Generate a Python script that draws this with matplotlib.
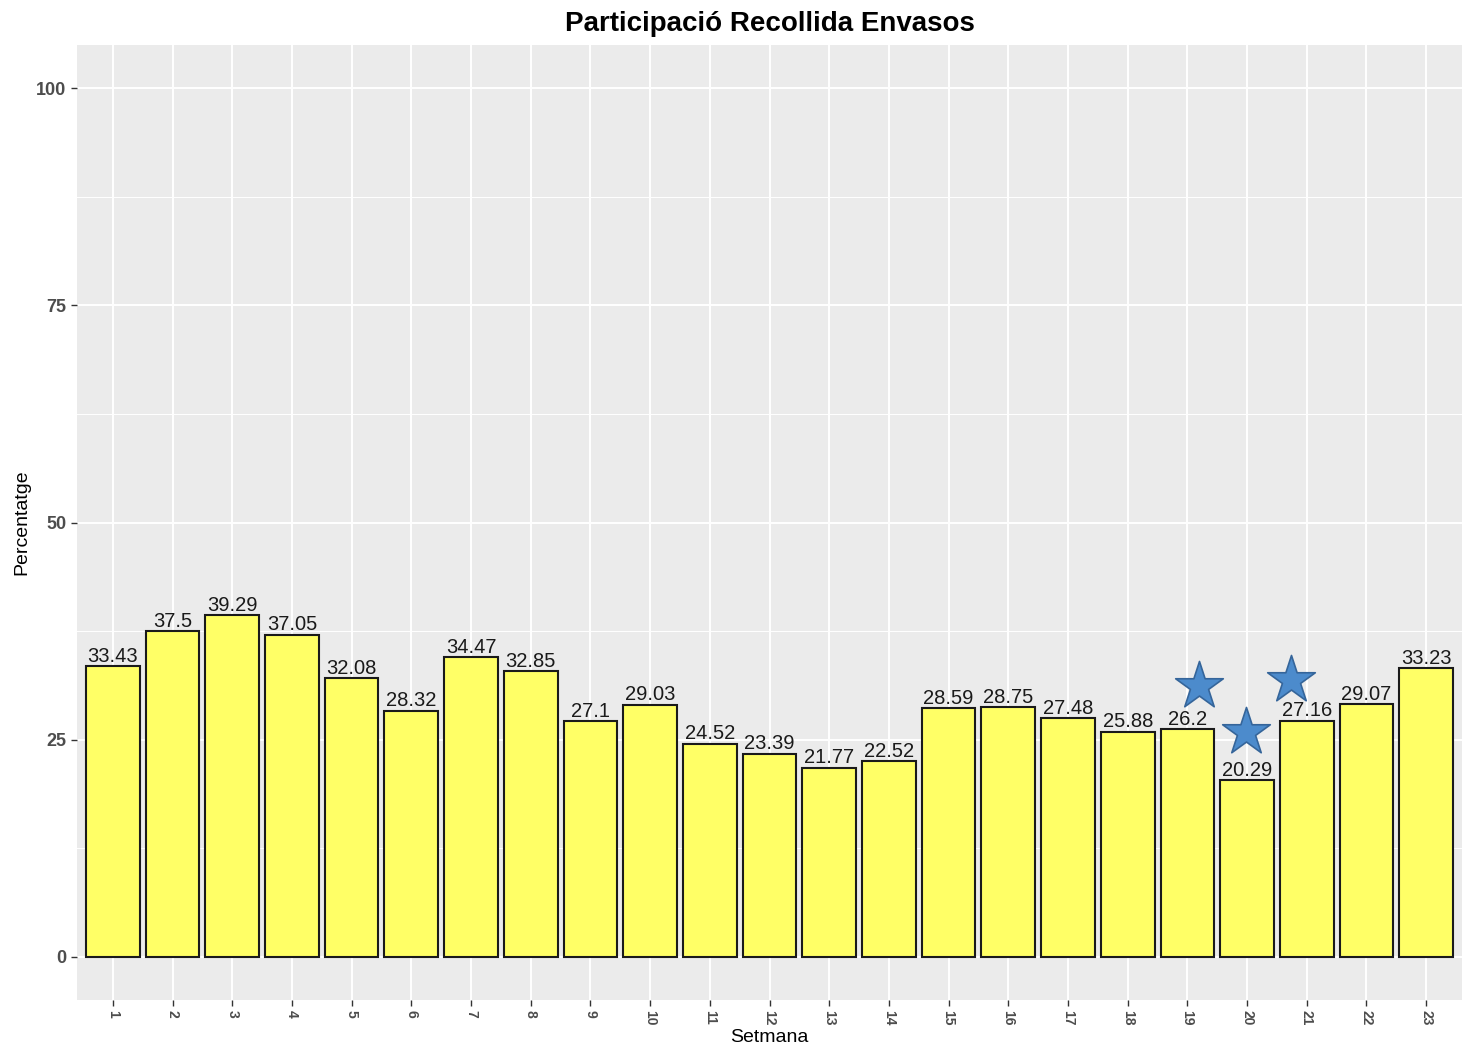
import numpy as np
import matplotlib.pyplot as plt

# Dades
setmana = list(range(1, 24))
percentatge = [33.43, 37.5, 39.29, 37.05, 32.08, 28.32, 34.47, 32.85, 27.1, 29.03,
               24.52, 23.39, 21.77, 22.52, 28.59, 28.75, 27.48, 25.88, 26.2, 20.29,
               27.16, 29.07, 33.23]
etiquetes = ['33.43', '37.5', '39.29', '37.05', '32.08', '28.32', '34.47', '32.85', '27.1', '29.03',
             '24.52', '23.39', '21.77', '22.52', '28.59', '28.75', '27.48', '25.88', '26.2', '20.29',
             '27.16', '29.07', '33.23']
# Estrelles
estrella_x = [19.2, 19.99, 20.73]
estrella_y = [31.2, 25.9, 31.9]

plt.rcParams['font.family'] = ['Liberation Sans', 'DejaVu Sans']

fig = plt.figure(figsize=(14.68, 10.51), dpi=100)
ax = fig.add_axes([77 / 1468, 51 / 1051, (1462 - 77) / 1468, (1000 - 45) / 1051])
ax.set_facecolor('#EBEBEB')

ax.bar(setmana, percentatge, width=0.9, color='#FFFF66', edgecolor='#1A1A1A', linewidth=1.5, zorder=3)
for x, y, t in zip(setmana, percentatge, etiquetes):
    ax.text(x, y + 0.05, t, ha='center', va='bottom', fontsize=14.5, color='#1A1A1A', zorder=4)

ax.scatter(estrella_x, estrella_y, marker='*', s=1300, color='#4C8BCC',
           edgecolor='#35659A', linewidth=1.2, zorder=5)

ax.set_xlim(0.4, 23.6)
ax.set_ylim(-5, 105)
ax.set_yticks([0, 25, 50, 75, 100])
ax.set_yticks([12.5, 37.5, 62.5, 87.5], minor=True)
ax.set_xticks(setmana)
ax.set_xticklabels([str(s) for s in setmana], rotation=-90, fontsize=10,
                   fontweight='bold', color='#4D4D4D')
for lab in ax.get_yticklabels():
    lab.set_fontsize(13)
    lab.set_fontweight('bold')
    lab.set_color('#4D4D4D')

ax.grid(which='major', color='white', linewidth=1.4, zorder=0)
ax.grid(which='minor', axis='y', color='white', linewidth=0.7, zorder=0)
ax.set_axisbelow(True)
for sp in ax.spines.values():
    sp.set_visible(False)
ax.tick_params(which='major', length=4, color='#333333', width=1)
ax.tick_params(which='minor', length=0)

ax.set_xlabel('Setmana', fontsize=14, labelpad=2)
ax.set_ylabel('Percentatge', fontsize=14, labelpad=4)
ax.set_title('Participació Recollida Envasos', fontsize=20, fontweight='bold', pad=10)

fig.savefig('out.png', dpi=100)
